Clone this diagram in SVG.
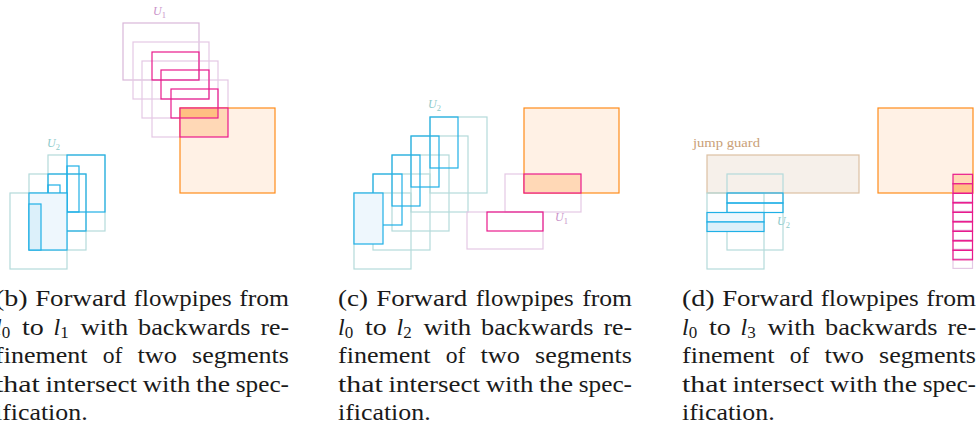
<svg xmlns="http://www.w3.org/2000/svg" width="976" height="430" viewBox="0 0 976 430">
  <style>
    rect { stroke-width: 1.2; }
    .tp { fill: none; stroke: #b4dada; }
    .bl { fill: none; stroke: #1fb0e6; }
    .blf { fill: #eef7fd; stroke: #1fb0e6; }
    .blf2 { fill: #dcf0fa; stroke: #1fb0e6; }
    .pp { fill: none; stroke: #e4c8e4; }
    .pp1 { fill: none; stroke: #d9b7d9; }
    .mg { fill: none; stroke: #e9198c; }
    .spec { fill: #fff1e5; stroke: #ff8c1a; }
    .ov1 { fill: #ffd8b6; stroke: none; }
    .ov2 { fill: #ffbf82; stroke: none; }
    .guard { fill: #f6f0ea; stroke: #dcc0a2; }
    text { font-family: 'Liberation Serif', 'Times New Roman', serif; }
    .lbl { font-style: italic; font-size: 12px; }
    .u1 { fill: #c993c9; }
    .u2 { fill: #8ccaca; }
    .gtxt { font-size: 12.5px; fill: #c9a077; }
    .cap text { font-size: 24px; fill: #1a1a1a; }
    .it { font-style: italic; }
  </style>

  <!-- (b) flowpipes l0 -> l1 -->
  <g id="panel-b">
    <g id="b-u2">
      <rect class="tp" x="10" y="193" width="57" height="76"/>
      <rect class="tp" x="29" y="174" width="57" height="76"/>
      <rect class="tp" x="48" y="155" width="57" height="76"/>
      <rect class="bl" x="67" y="155" width="38" height="57"/>
      <rect class="bl" x="67" y="166" width="12" height="46"/>
      <rect class="bl" x="48" y="174" width="38" height="57"/>
      <rect class="bl" x="48" y="185" width="12" height="46"/>
      <rect class="blf" x="29" y="193" width="38" height="57"/>
      <rect class="blf2" x="29" y="204" width="12" height="46"/>
      <text class="lbl u2" x="47" y="147">U<tspan font-size="8.5" dy="2.5" font-style="normal">2</tspan></text>
    </g>
    <g id="b-u1">
      <rect class="pp1" x="123" y="23" width="76" height="57"/>
      <rect class="pp" x="133" y="42" width="76" height="57"/>
      <rect class="pp" x="142" y="61" width="76" height="57"/>
      <rect class="pp" x="152" y="80" width="76" height="57"/>
      <text class="lbl u1" x="153" y="15">U<tspan font-size="8.5" dy="2.5" font-style="normal">1</tspan></text>
    </g>
    <g id="b-spec">
      <rect class="spec" x="180" y="108" width="95" height="85"/>
      <rect class="ov1" x="180" y="108" width="48" height="29"/>
      <rect class="ov2" x="180" y="108" width="38" height="10"/>
    </g>
    <g id="b-refined">
      <rect class="mg" x="152" y="52" width="47" height="28"/>
      <rect class="mg" x="161" y="70" width="48" height="29"/>
      <rect class="mg" x="171" y="89" width="47" height="29"/>
      <rect class="mg" x="180" y="108" width="48" height="29"/>
    </g>
  </g>

  <!-- (c) flowpipes l0 -> l2 -->
  <g id="panel-c">
    <g id="c-u2">
      <rect class="tp" x="430" y="117" width="57" height="76"/>
      <rect class="tp" x="411" y="136" width="57" height="76"/>
      <rect class="tp" x="392" y="155" width="57" height="76"/>
      <rect class="tp" x="373" y="174" width="57" height="76"/>
      <rect class="tp" x="354" y="193" width="57" height="76"/>
      <rect class="bl" x="430" y="117" width="28" height="51"/>
      <rect class="bl" x="411" y="136" width="28" height="51"/>
      <rect class="bl" x="392" y="155" width="28" height="51"/>
      <rect class="bl" x="373" y="174" width="29" height="51"/>
      <rect class="blf" x="354" y="193" width="29" height="51"/>
      <text class="lbl u2" x="428" y="108">U<tspan font-size="8.5" dy="2.5" font-style="normal">2</tspan></text>
    </g>
    <g id="c-u1">
      <rect class="pp" x="505" y="174" width="76" height="38"/>
      <rect class="pp" x="467" y="212" width="76" height="37"/>
      <text class="lbl u1" x="555" y="221">U<tspan font-size="8.5" dy="2.5" font-style="normal">1</tspan></text>
    </g>
    <g id="c-spec">
      <rect class="spec" x="524" y="108" width="95" height="85"/>
    </g>
    <g id="c-refined">
      <rect class="mg" x="524" y="174" width="57" height="19" style="fill:#ffd8b6"/>
      <rect class="mg" x="487" y="212" width="56" height="19"/>
    </g>
  </g>

  <!-- (d) flowpipes l0 -> l3 -->
  <g id="panel-d">
    <g id="d-guard">
      <rect class="guard" x="707" y="155" width="152" height="38"/>
      <text class="gtxt" x="693" y="147" textLength="67" lengthAdjust="spacingAndGlyphs">jump guard</text>
    </g>
    <g id="d-u2">
      <rect class="tp" x="727" y="174" width="56" height="76"/>
      <rect class="tp" x="707" y="193" width="57" height="76"/>
      <rect class="bl" x="727" y="193" width="56" height="10"/>
      <rect class="bl" x="727" y="203" width="56" height="9.5"/>
      <rect class="blf" x="707" y="212.5" width="57" height="9.5"/>
      <rect class="blf2" x="707" y="222" width="57" height="9.5"/>
      <text class="lbl u2" x="777" y="225">U<tspan font-size="8.5" dy="2.5" font-style="normal">2</tspan></text>
    </g>
    <g id="d-spec">
      <rect class="spec" x="878" y="108" width="95" height="85"/>
    </g>
    <g id="d-u1">
      <rect class="pp" x="953" y="182.9" width="19.5" height="9.5"/>
      <rect class="pp" x="953" y="192.4" width="19.5" height="9.5"/>
      <rect class="pp" x="953" y="201.9" width="19.5" height="9.5"/>
      <rect class="pp" x="953" y="211.4" width="19.5" height="9.5"/>
      <rect class="pp" x="953" y="220.9" width="19.5" height="9.5"/>
      <rect class="pp" x="953" y="230.4" width="19.5" height="9.5"/>
      <rect class="pp" x="953" y="239.9" width="19.5" height="9.5"/>
      <rect class="pp" x="953" y="249.4" width="19.5" height="9.5"/>
      <rect class="pp" x="953" y="258.9" width="19.5" height="9.5"/>
    </g>
    <g id="d-refined">
      <rect class="mg" x="953" y="174.3" width="19.5" height="9.5" style="fill:#ffd8b6"/>
      <rect class="mg" x="953" y="183.8" width="19.5" height="9.5" style="fill:#ffbf82"/>
      <rect class="mg" x="953" y="193.3" width="19.5" height="9.5"/>
      <rect class="mg" x="953" y="202.8" width="19.5" height="9.5"/>
      <rect class="mg" x="953" y="212.3" width="19.5" height="9.5"/>
      <rect class="mg" x="953" y="221.8" width="19.5" height="9.5"/>
      <rect class="mg" x="953" y="231.3" width="19.5" height="9.5"/>
      <rect class="mg" x="953" y="240.8" width="19.5" height="9.5"/>
      <rect class="mg" x="953" y="250.3" width="19.5" height="9.5"/>
    </g>
  </g>

  <!-- captions: justified, words placed one by one -->
  <g id="caption-b" class="cap" transform="translate(-5,0)">
    <text x="0" y="306" textLength="32.7" lengthAdjust="spacingAndGlyphs">(b)</text>
    <text x="40.2" y="306" textLength="91" lengthAdjust="spacingAndGlyphs">Forward</text>
    <text x="138.7" y="306" textLength="98.1" lengthAdjust="spacingAndGlyphs">flowpipes</text>
    <text x="244.2" y="306" textLength="49.8" lengthAdjust="spacingAndGlyphs">from</text>
    <text x="0" y="334.5"><tspan class="it">l</tspan><tspan font-size="17" dy="3.6">0</tspan></text>
    <text x="26.9" y="334.5" textLength="21.8" lengthAdjust="spacingAndGlyphs">to</text>
    <text x="58.5" y="334.5"><tspan class="it">l</tspan><tspan font-size="17" dy="3.6">1</tspan></text>
    <text x="85.4" y="334.5" textLength="47.7" lengthAdjust="spacingAndGlyphs">with</text>
    <text x="143" y="334.5" textLength="112.5" lengthAdjust="spacingAndGlyphs">backwards</text>
    <text x="265.4" y="334.5" textLength="28.6" lengthAdjust="spacingAndGlyphs">re-</text>
    <text x="0" y="363" textLength="92.6" lengthAdjust="spacingAndGlyphs">finement</text>
    <text x="107.7" y="363" textLength="19.7" lengthAdjust="spacingAndGlyphs">of</text>
    <text x="142.5" y="363" textLength="39.5" lengthAdjust="spacingAndGlyphs">two</text>
    <text x="197.1" y="363" textLength="96.9" lengthAdjust="spacingAndGlyphs">segments</text>
    <text x="0" y="391.5" textLength="44.9" lengthAdjust="spacingAndGlyphs">that</text>
    <text x="50.6" y="391.5" textLength="91.4" lengthAdjust="spacingAndGlyphs">intersect</text>
    <text x="147.7" y="391.5" textLength="47.7" lengthAdjust="spacingAndGlyphs">with</text>
    <text x="201.1" y="391.5" textLength="34" lengthAdjust="spacingAndGlyphs">the</text>
    <text x="240.8" y="391.5" textLength="53.2" lengthAdjust="spacingAndGlyphs">spec-</text>
    <text x="0" y="420" textLength="92.6" lengthAdjust="spacingAndGlyphs">ification.</text>
  </g>

  <g id="caption-c" class="cap" transform="translate(338,0)">
    <text x="0" y="306" textLength="29.9" lengthAdjust="spacingAndGlyphs">(c)</text>
    <text x="38.3" y="306" textLength="91" lengthAdjust="spacingAndGlyphs">Forward</text>
    <text x="137.7" y="306" textLength="98.1" lengthAdjust="spacingAndGlyphs">flowpipes</text>
    <text x="244.2" y="306" textLength="49.8" lengthAdjust="spacingAndGlyphs">from</text>
    <text x="0" y="334.5"><tspan class="it">l</tspan><tspan font-size="17" dy="3.6">0</tspan></text>
    <text x="26.9" y="334.5" textLength="21.8" lengthAdjust="spacingAndGlyphs">to</text>
    <text x="58.5" y="334.5"><tspan class="it">l</tspan><tspan font-size="17" dy="3.6">2</tspan></text>
    <text x="85.4" y="334.5" textLength="47.7" lengthAdjust="spacingAndGlyphs">with</text>
    <text x="143" y="334.5" textLength="112.5" lengthAdjust="spacingAndGlyphs">backwards</text>
    <text x="265.4" y="334.5" textLength="28.6" lengthAdjust="spacingAndGlyphs">re-</text>
    <text x="0" y="363" textLength="92.6" lengthAdjust="spacingAndGlyphs">finement</text>
    <text x="107.7" y="363" textLength="19.7" lengthAdjust="spacingAndGlyphs">of</text>
    <text x="142.5" y="363" textLength="39.5" lengthAdjust="spacingAndGlyphs">two</text>
    <text x="197.1" y="363" textLength="96.9" lengthAdjust="spacingAndGlyphs">segments</text>
    <text x="0" y="391.5" textLength="44.9" lengthAdjust="spacingAndGlyphs">that</text>
    <text x="50.6" y="391.5" textLength="91.4" lengthAdjust="spacingAndGlyphs">intersect</text>
    <text x="147.7" y="391.5" textLength="47.7" lengthAdjust="spacingAndGlyphs">with</text>
    <text x="201.1" y="391.5" textLength="34" lengthAdjust="spacingAndGlyphs">the</text>
    <text x="240.8" y="391.5" textLength="53.2" lengthAdjust="spacingAndGlyphs">spec-</text>
    <text x="0" y="420" textLength="92.6" lengthAdjust="spacingAndGlyphs">ification.</text>
  </g>

  <g id="caption-d" class="cap" transform="translate(682,0)">
    <text x="0" y="306" textLength="32.7" lengthAdjust="spacingAndGlyphs">(d)</text>
    <text x="40.2" y="306" textLength="91" lengthAdjust="spacingAndGlyphs">Forward</text>
    <text x="138.7" y="306" textLength="98.1" lengthAdjust="spacingAndGlyphs">flowpipes</text>
    <text x="244.2" y="306" textLength="49.8" lengthAdjust="spacingAndGlyphs">from</text>
    <text x="0" y="334.5"><tspan class="it">l</tspan><tspan font-size="17" dy="3.6">0</tspan></text>
    <text x="26.9" y="334.5" textLength="21.8" lengthAdjust="spacingAndGlyphs">to</text>
    <text x="58.5" y="334.5"><tspan class="it">l</tspan><tspan font-size="17" dy="3.6">3</tspan></text>
    <text x="85.4" y="334.5" textLength="47.7" lengthAdjust="spacingAndGlyphs">with</text>
    <text x="143" y="334.5" textLength="112.5" lengthAdjust="spacingAndGlyphs">backwards</text>
    <text x="265.4" y="334.5" textLength="28.6" lengthAdjust="spacingAndGlyphs">re-</text>
    <text x="0" y="363" textLength="92.6" lengthAdjust="spacingAndGlyphs">finement</text>
    <text x="107.7" y="363" textLength="19.7" lengthAdjust="spacingAndGlyphs">of</text>
    <text x="142.5" y="363" textLength="39.5" lengthAdjust="spacingAndGlyphs">two</text>
    <text x="197.1" y="363" textLength="96.9" lengthAdjust="spacingAndGlyphs">segments</text>
    <text x="0" y="391.5" textLength="44.9" lengthAdjust="spacingAndGlyphs">that</text>
    <text x="50.6" y="391.5" textLength="91.4" lengthAdjust="spacingAndGlyphs">intersect</text>
    <text x="147.7" y="391.5" textLength="47.7" lengthAdjust="spacingAndGlyphs">with</text>
    <text x="201.1" y="391.5" textLength="34" lengthAdjust="spacingAndGlyphs">the</text>
    <text x="240.8" y="391.5" textLength="53.2" lengthAdjust="spacingAndGlyphs">spec-</text>
    <text x="0" y="420" textLength="92.6" lengthAdjust="spacingAndGlyphs">ification.</text>
  </g>
</svg>
